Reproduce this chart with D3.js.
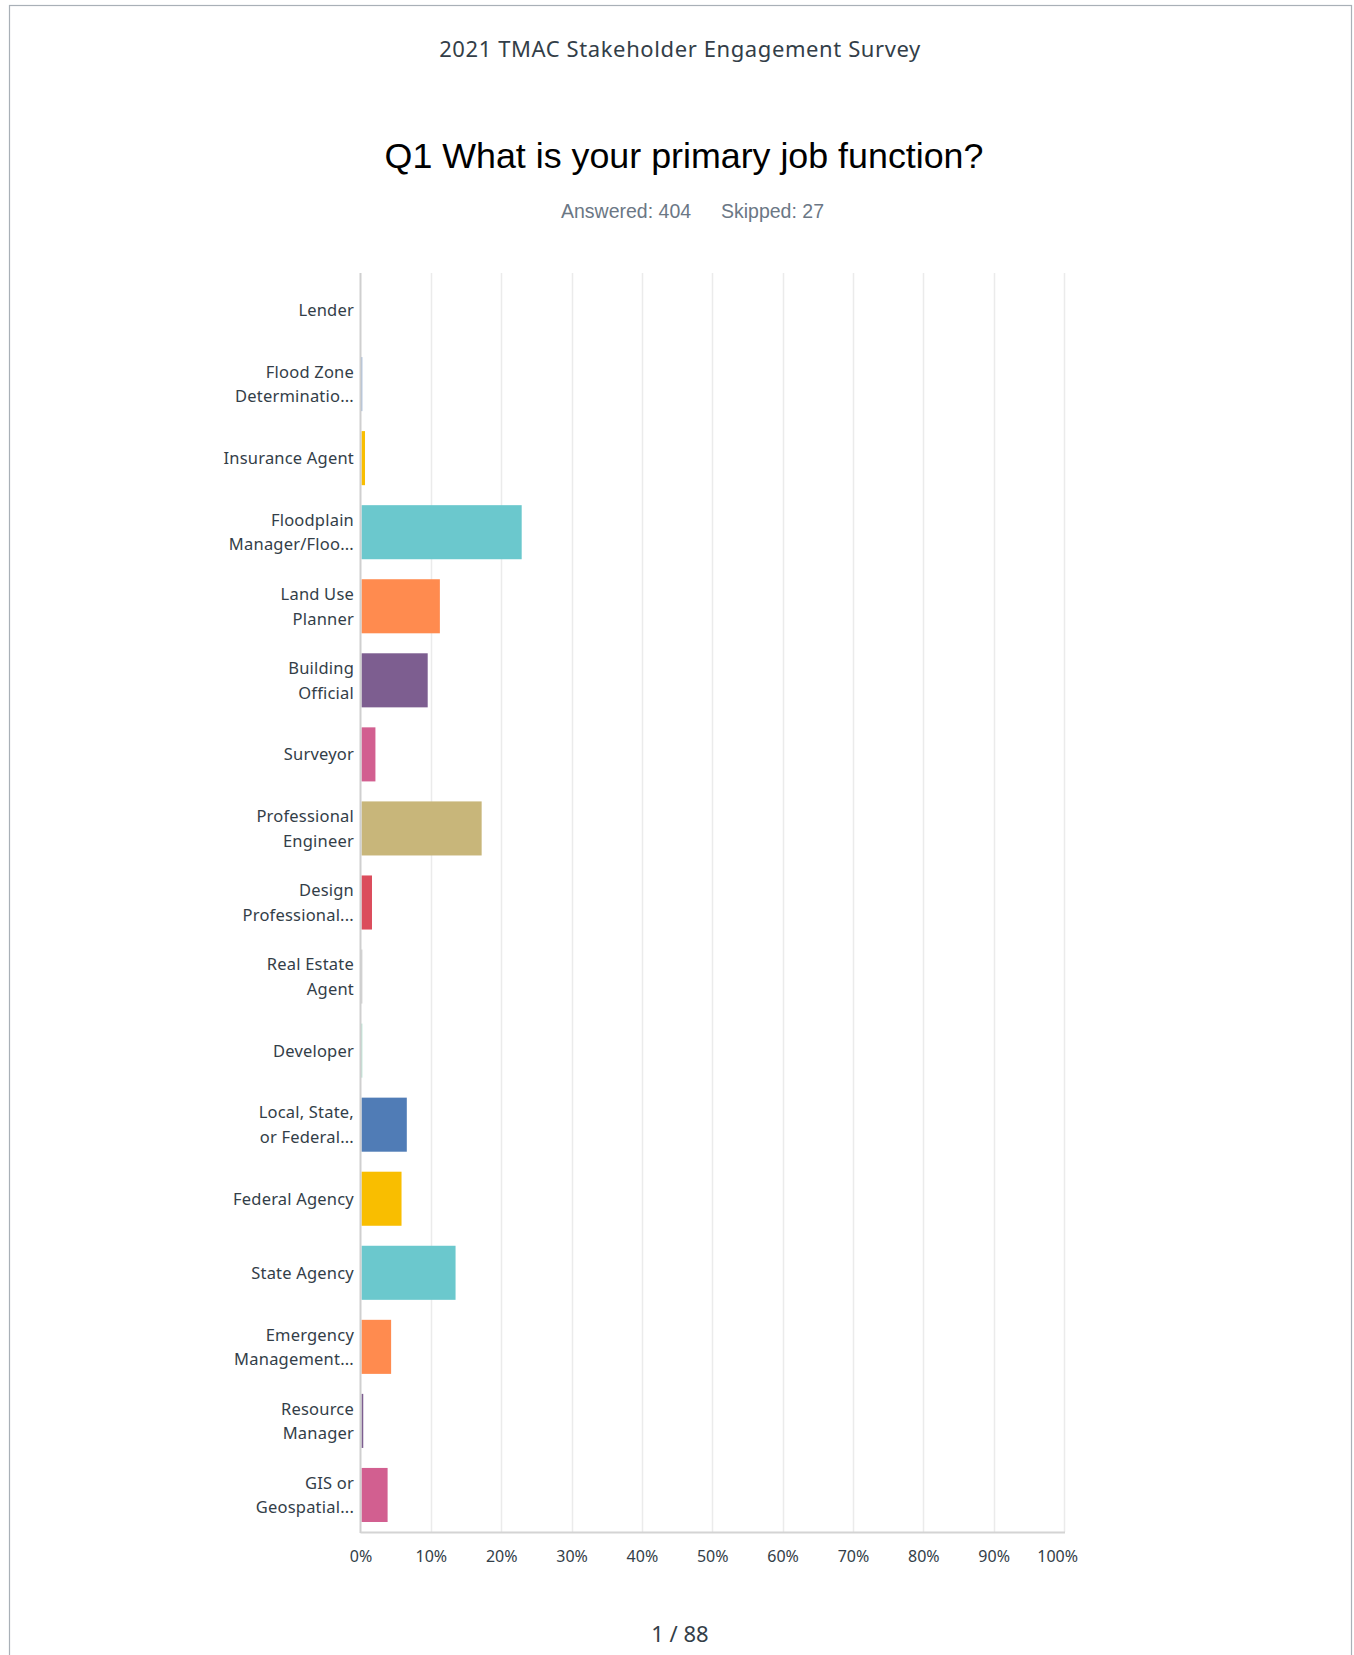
<!DOCTYPE html>
<html>
<head>
<meta charset="utf-8">
<script src="https://cdn.jsdelivr.net/npm/d3@7"></script>
<style>
  html, body { margin: 0; padding: 0; background: #fff; }
  svg { display: block; }
</style>
</head>
<body>
<svg id="chart" width="1354" height="1655"></svg>
<script>
// ---- data ----
const surveyTitle = "2021 TMAC Stakeholder Engagement Survey";
const questionTitle = "Q1 What is your primary job function?";
const answeredText = "Answered: 404";
const skippedText = "Skipped: 27";
const pageText = "1 / 88";

const categories = [
  ["Lender"],
  ["Flood Zone", "Determinatio..."],
  ["Insurance Agent"],
  ["Floodplain", "Manager/Floo..."],
  ["Land Use", "Planner"],
  ["Building", "Official"],
  ["Surveyor"],
  ["Professional", "Engineer"],
  ["Design", "Professional..."],
  ["Real Estate", "Agent"],
  ["Developer"],
  ["Local, State,", "or Federal..."],
  ["Federal Agency"],
  ["State Agency"],
  ["Emergency", "Management..."],
  ["Resource", "Manager"],
  ["GIS or", "Geospatial..."]
];
// percent of respondents
const values = [0, 0.1, 0.5, 22.77, 11.14, 9.41, 1.98, 17.08, 1.49, 0.1, 0.1, 6.44, 5.69, 13.37, 4.21, 0.25, 3.71];
const palette = ["#7FCBAE", "#507CB6", "#F9BE00", "#6BC8CD", "#FF8B4F", "#7D5E90", "#D25F90", "#C8B67A", "#DB4D5C", "#A6A6A6"];
const tickValues = [0, 10, 20, 30, 40, 50, 60, 70, 80, 90, 100];

// ---- layout ----
const svg = d3.select("#chart");
const plot = { left: 360.5, right: 1064, top: 273, bottom: 1532 };

// page frame
svg.append("rect")
  .attr("x", 9.5).attr("y", 5.5)
  .attr("width", 1342).attr("height", 1700)
  .attr("fill", "none").attr("stroke", "#a9b0b7").attr("stroke-width", 1.2);

svg.append("text")
  .attr("x", 680).attr("y", 57)
  .attr("text-anchor", "middle")
  .attr("font-family", "Noto Sans")
  .attr("font-size", 22)
  .attr("letter-spacing", 0.6)
  .attr("fill", "#333e48")
  .text(surveyTitle);

svg.append("text")
  .attr("x", 684).attr("y", 168)
  .attr("text-anchor", "middle")
  .attr("font-family", "Liberation Sans")
  .attr("font-size", 35.8)
  .attr("fill", "#000")
  .text(questionTitle);

svg.append("text")
  .attr("x", 561).attr("y", 218)
  .attr("font-family", "Liberation Sans")
  .attr("font-size", 19.5)
  .attr("fill", "#6b7785")
  .text(answeredText);
svg.append("text")
  .attr("x", 721).attr("y", 218)
  .attr("font-family", "Liberation Sans")
  .attr("font-size", 19.5)
  .attr("fill", "#6b7785")
  .text(skippedText);

const x = d3.scaleLinear().domain([0, 100]).range([plot.left, plot.right]);
const y = d3.scaleBand().domain(d3.range(categories.length))
  .range([plot.top, plot.bottom]).paddingInner(0.27).paddingOuter(0.135);
const yOuter = d3.scaleBand().domain(d3.range(categories.length))
  .range([plot.top, plot.bottom]);

// gridlines
svg.append("g").selectAll("line")
  .data(tickValues.slice(1))
  .join("line")
  .attr("x1", d => Math.round(x(d)) + 0.5).attr("x2", d => Math.round(x(d)) + 0.5)
  .attr("y1", plot.top).attr("y2", plot.bottom)
  .attr("stroke", "#ebebeb").attr("stroke-width", 1.5);

// bars
svg.append("g").selectAll("rect")
  .data(values)
  .join("rect")
  .attr("x", x(0) + 1)
  .attr("y", (d, i) => y(i))
  .attr("width", d => Math.max(0, x(d) - x(0)))
  .attr("height", y.bandwidth())
  .attr("fill", (d, i) => palette[i % palette.length]);

// axes lines
svg.append("line")
  .attr("x1", x(0)).attr("x2", x(0))
  .attr("y1", plot.top).attr("y2", plot.bottom + 1)
  .attr("stroke", "#cfcfcf").attr("stroke-width", 2);
svg.append("line")
  .attr("x1", x(0)).attr("x2", plot.right + 1)
  .attr("y1", plot.bottom + 0.5).attr("y2", plot.bottom + 0.5)
  .attr("stroke", "#d4d4d4").attr("stroke-width", 2);

// category labels
const labelG = svg.append("g")
  .attr("font-family", "Noto Sans")
  .attr("font-size", 16.5)
  .attr("letter-spacing", 0.2)
  .attr("fill", "#333e48")
  .attr("text-anchor", "end");
categories.forEach((lines, i) => {
  const cy = yOuter(i) + yOuter.bandwidth() / 2 + 6;
  const lh = 24.5;
  const t = labelG.append("text").attr("x", 354);
  lines.forEach((ln, k) => {
    t.append("tspan")
      .attr("x", 354)
      .attr("y", cy + (k - (lines.length - 1) / 2) * lh)
      .text(ln);
  });
});

// x axis tick labels
const xAxis = d3.axisBottom(x).tickValues(tickValues).tickFormat(d => d + "%").tickSize(0).tickPadding(0);
const axG = svg.append("g").attr("transform", `translate(0, ${plot.bottom})`).call(xAxis);
axG.select(".domain").remove();
axG.selectAll("text")
  .attr("font-family", "Noto Sans")
  .attr("font-size", 16)
  .attr("fill", "#333e48")
  .attr("dy", null)
  .attr("y", 30);
// keep the last label inside the plot container
axG.selectAll(".tick text").each(function () {
  const bb = this.getBBox();
  const tx = +d3.select(this.parentNode).attr("transform").match(/translate\(([^,]+)/)[1];
  const limit = 1078;
  if (tx + bb.x + bb.width > limit) d3.select(this).attr("x", limit - (tx + bb.x + bb.width));
});

svg.append("text")
  .attr("x", 680).attr("y", 1642)
  .attr("text-anchor", "middle")
  .attr("font-family", "Noto Sans")
  .attr("font-size", 22)
  .attr("fill", "#333e48")
  .text(pageText);
</script>
</body>
</html>
